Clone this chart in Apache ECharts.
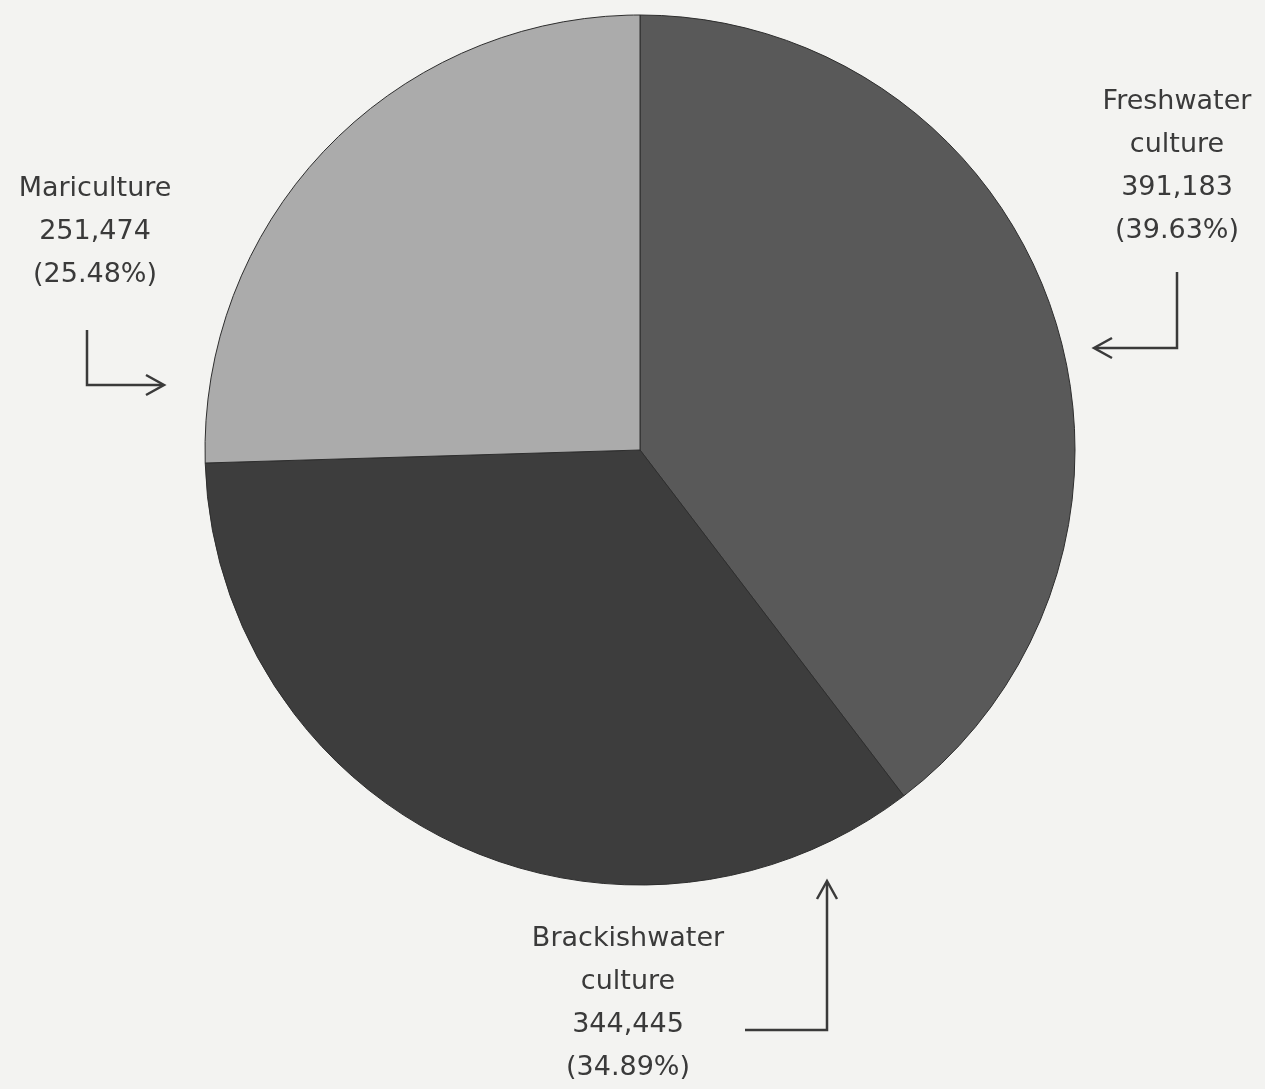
<!DOCTYPE html>
<html>
<head>
<meta charset="utf-8">
<script src="https://cdn.jsdelivr.net/npm/echarts@6/dist/echarts.min.js"></script>
<style>
html,body{margin:0;padding:0;background:#f3f3f1;}
#chart{width:1265px;height:1089px;}
</style>
</head>
<body>
<div id="chart"></div>
<script>
const names = ['Freshwater\nculture', 'Brackishwater\nculture', 'Mariculture'];
const values = [391183, 344445, 251474];
const percents = ['39.63%', '34.89%', '25.48%'];
const colors = ['#595959', '#3d3d3d', '#ababab'];

const fmt = v => v.toLocaleString('en-US');
const labelPos = [[1177, 80], [628, 917], [95, 167]];

const chart = echarts.init(document.getElementById('chart'));
const graphics = [];
names.forEach((n, i) => {
  graphics.push({
    type: 'text', x: labelPos[i][0], y: labelPos[i][1],
    style: {
      text: n + '\n' + fmt(values[i]) + '\n(' + percents[i] + ')',
      font: '27px "DejaVu Sans", sans-serif',
      fill: '#3a3a3a', textAlign: 'center', lineHeight: 43
    }
  });
});
const ln = {stroke: '#3a3a3a', lineWidth: 2.5, fill: null};
// arrows
graphics.push({type: 'polyline', shape: {points: [[87, 330], [87, 385], [163, 385]]}, style: ln});
graphics.push({type: 'polyline', shape: {points: [[146, 375], [164, 385], [146, 395]]}, style: ln});
graphics.push({type: 'polyline', shape: {points: [[1177, 272], [1177, 348], [1095, 348]]}, style: ln});
graphics.push({type: 'polyline', shape: {points: [[1112, 338], [1094, 348], [1112, 358]]}, style: ln});
graphics.push({type: 'polyline', shape: {points: [[745, 1030], [827, 1030], [827, 882]]}, style: ln});
graphics.push({type: 'polyline', shape: {points: [[817, 899], [827, 881], [837, 899]]}, style: ln});

chart.setOption({
  backgroundColor: '#f3f3f1',
  animation: false,
  series: [{
    type: 'pie',
    center: [640, 450],
    radius: 435,
    startAngle: 90,
    clockwise: true,
    label: {show: false},
    labelLine: {show: false},
    itemStyle: {borderColor: '#2e2e2e', borderWidth: 1},
    emphasis: {disabled: true},
    data: names.map((n, i) => ({name: n, value: values[i], itemStyle: {color: colors[i]}}))
  }],
  graphic: graphics
});
</script>
</body>
</html>
